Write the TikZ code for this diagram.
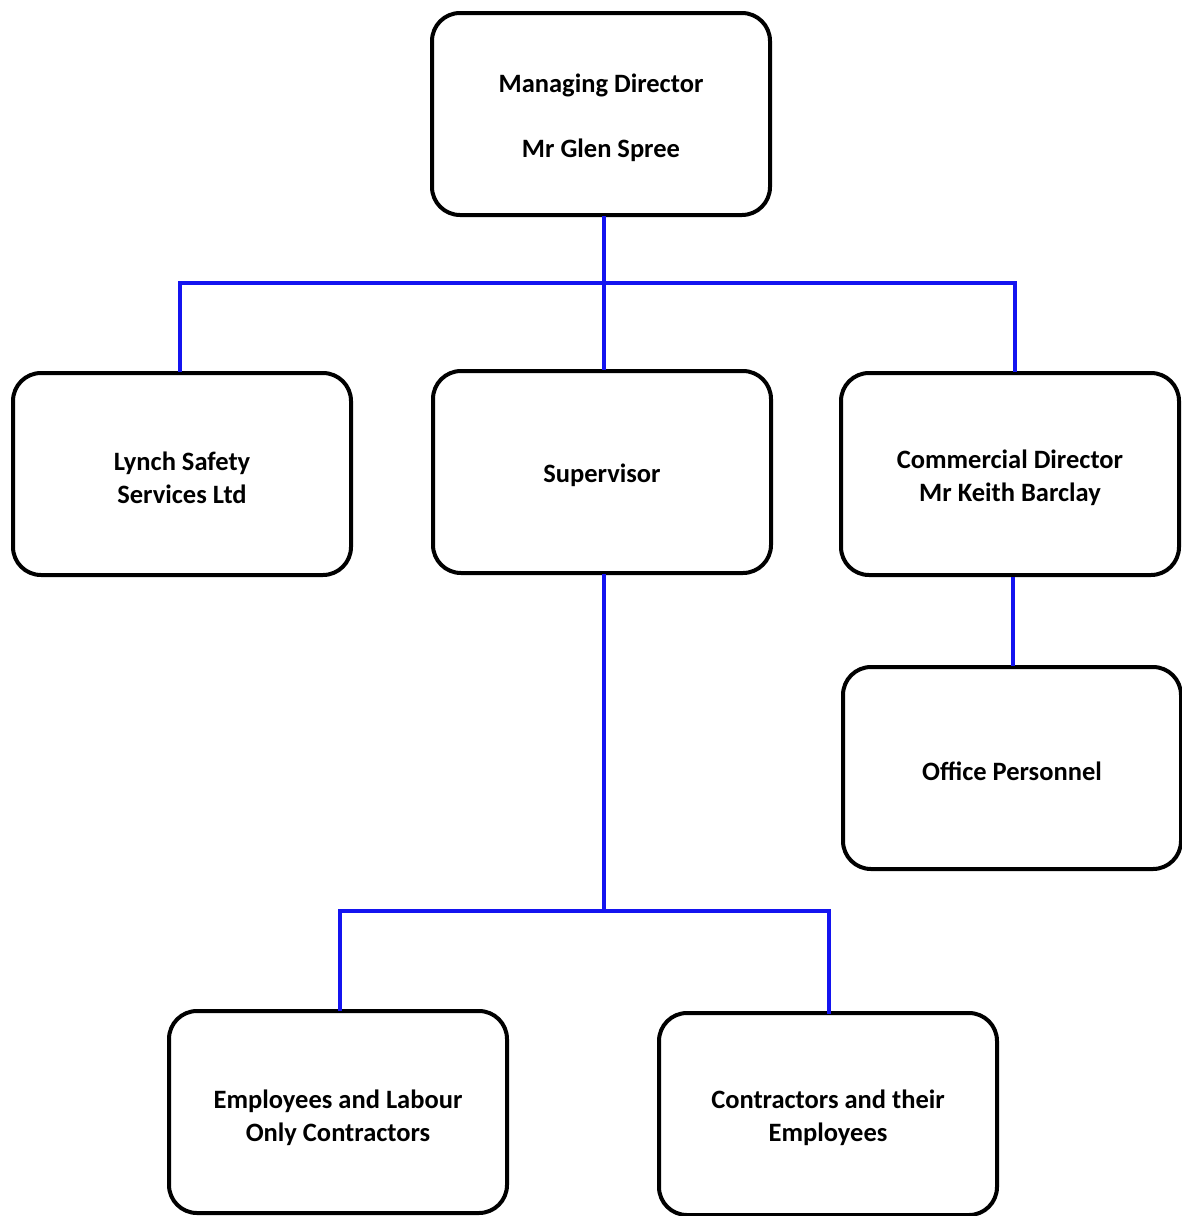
\documentclass[tikz,border=0pt]{standalone}
\usepackage{fontspec}
\setmainfont{Carlito}
\begin{document}
\begin{tikzpicture}[x=1pt,y=-1pt,
  box/.style={draw=black,line width=4pt,rounded corners=28pt,minimum width=338pt,minimum height=202pt,inner sep=0pt},
  txt/.style={align=center,font=\fontsize{26.5}{33}\selectfont\bfseries,inner sep=0pt,yshift=-3.5pt},
  link/.style={draw={rgb,255:red,20;green,20;blue,240},line width=4pt}]
\useasboundingbox (0,0) rectangle (1182,1216);
\node[box,label={[txt]center:{Managing Director\\[32pt]Mr Glen Spree}}] (md) at (601,114) {};
\node[box,label={[txt]center:{Lynch Safety\\Services Ltd}}] (lynch) at (182,474) {};
\node[box,label={[txt]center:{Supervisor}}] (sup) at (602,472) {};
\node[box,label={[txt]center:{Commercial Director\\Mr Keith Barclay}}] (comm) at (1010,474) {};
\node[box,label={[txt]center:{Office Personnel}}] (office) at (1012,768) {};
\node[box,label={[txt,yshift=-2pt]center:{Employees and Labour\\Only Contractors}}] (emp) at (338,1112) {};
\node[box,label={[txt]center:{Contractors and their\\Employees}}] (con) at (828,1114) {};
\coordinate (bus1) at (604,283);
\coordinate (bus2) at (604,911);
\draw[link] (604,216) -- (bus1);
\draw[link] (180,372) |- (bus1) -| (1015,372);
\draw[link] (bus1) -- (604,370);
\draw[link] (1013,577) -- (1013,666);
\draw[link] (604,574) -- (bus2);
\draw[link] (340,1011) |- (bus2) -| (829,1014);
\end{tikzpicture}
\end{document}
